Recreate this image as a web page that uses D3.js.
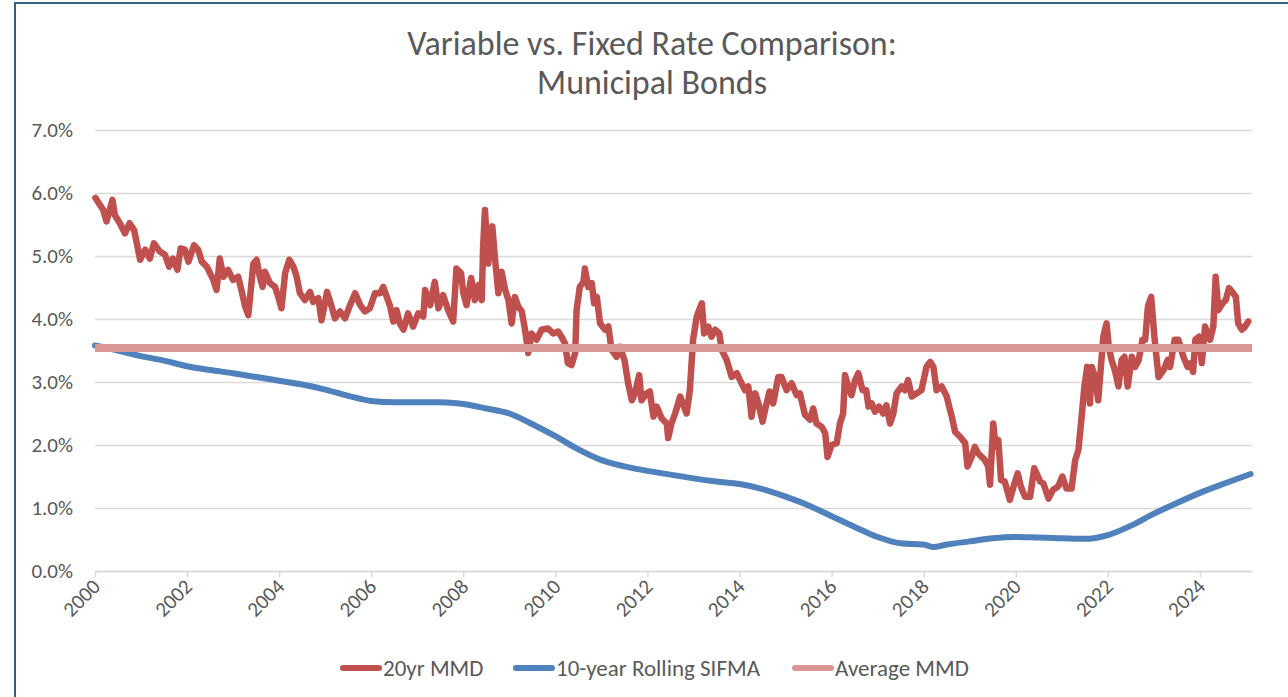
<!DOCTYPE html>
<html>
<head>
<meta charset="utf-8">
<script src="https://cdn.jsdelivr.net/npm/d3@7"></script>
<style>
  body { margin: 0; background: #fff; }
  text { font-family: Carlito, Calibri, Lato, sans-serif; fill: #595959; }
</style>
</head>
<body>
<svg id="chart" width="1288" height="697"></svg>
<script>
// 20yr MMD (decimal year / percent)
var mmdYears = [2000.01,2000.18,2000.25,2000.38,2000.43,2000.54,2000.65,2000.75,2000.85,2000.98,
  2001.09,2001.19,2001.28,2001.41,2001.52,2001.61,2001.69,2001.79,2001.86,2001.95,
  2002.03,2002.15,2002.24,2002.32,2002.43,2002.57,2002.64,2002.71,2002.79,2002.89,
  2003.00,2003.11,2003.18,2003.26,2003.33,2003.44,2003.51,2003.58,2003.64,2003.69,2003.80,2003.91,2003.98,
  2004.05,2004.13,2004.22,2004.31,2004.38,2004.45,2004.56,2004.67,2004.74,2004.85,2004.92,
  2005.04,2005.14,2005.21,2005.32,2005.43,2005.54,2005.65,2005.76,2005.86,2005.97,
  2006.08,2006.19,2006.26,2006.41,2006.48,2006.55,2006.62,2006.70,2006.80,2006.91,
  2007.02,2007.13,2007.17,2007.28,2007.38,2007.46,2007.56,2007.67,2007.78,2007.85,2007.95,
  2008.00,2008.07,2008.17,2008.25,2008.33,2008.40,2008.43,2008.47,2008.54,2008.63,2008.69,2008.76,2008.83,2008.91,2008.98,
  2009.05,2009.12,2009.19,2009.27,2009.34,2009.41,2009.48,2009.59,2009.70,2009.84,2009.95,
  2010.06,2010.13,2010.21,2010.27,2010.35,2010.43,2010.46,2010.53,2010.61,2010.64,2010.71,2010.79,2010.84,2010.90,2010.97,
  2011.08,2011.15,2011.22,2011.33,2011.40,2011.50,2011.58,2011.66,2011.73,2011.82,2011.87,2011.98,
  2012.05,2012.13,2012.20,2012.31,2012.42,2012.45,2012.52,2012.60,2012.71,2012.85,2012.92,2012.99,
  2013.07,2013.18,2013.23,2013.32,2013.39,2013.47,2013.56,2013.61,2013.72,2013.83,2013.94,
  2014.01,2014.12,2014.19,2014.26,2014.34,2014.41,2014.50,2014.57,2014.65,2014.73,2014.84,2014.91,
  2015.02,2015.13,2015.24,2015.31,2015.42,2015.53,2015.60,2015.67,2015.78,2015.86,2015.91,
  2016.00,2016.11,2016.18,2016.25,2016.29,2016.36,2016.43,2016.51,2016.58,2016.67,2016.75,2016.80,2016.87,2016.94,
  2017.03,2017.12,2017.19,2017.27,2017.34,2017.41,2017.52,2017.59,2017.66,2017.74,2017.85,2017.95,
  2018.06,2018.14,2018.21,2018.28,2018.39,2018.50,2018.57,2018.61,2018.68,2018.79,2018.90,2018.95,
  2019.04,2019.11,2019.18,2019.33,2019.40,2019.44,2019.51,2019.56,2019.62,2019.68,2019.76,2019.87,2019.95,
  2020.04,2020.11,2020.20,2020.31,2020.40,2020.53,2020.60,2020.71,2020.81,2020.92,
  2021.01,2021.10,2021.21,2021.29,2021.36,2021.43,2021.49,2021.55,2021.61,2021.65,2021.72,2021.79,2021.86,2021.90,2021.97,
  2022.02,2022.08,2022.15,2022.23,2022.30,2022.36,2022.43,2022.52,2022.59,2022.67,2022.75,2022.81,2022.87,2022.94,
  2023.01,2023.10,2023.21,2023.30,2023.35,2023.45,2023.53,2023.64,2023.73,2023.80,2023.85,2023.90,2023.98,
  2024.04,2024.11,2024.22,2024.29,2024.34,2024.40,2024.49,2024.56,2024.63,2024.72,2024.78,2024.83,2024.91,2024.98,2025.05];
var mmdRates = [5.92,5.73,5.55,5.89,5.65,5.52,5.36,5.52,5.41,4.94,
  5.10,4.96,5.20,5.07,5.02,4.83,4.96,4.78,5.12,5.10,
  4.91,5.17,5.10,4.91,4.83,4.62,4.46,4.96,4.67,4.78,
  4.62,4.67,4.46,4.20,4.06,4.88,4.94,4.67,4.51,4.75,4.57,4.51,4.35,
  4.17,4.73,4.94,4.83,4.67,4.41,4.30,4.43,4.27,4.33,3.98,
  4.43,4.20,4.01,4.12,4.01,4.22,4.41,4.22,4.12,4.17,
  4.41,4.41,4.51,4.20,3.96,4.14,3.93,3.83,4.09,3.88,
  4.09,4.04,4.46,4.22,4.59,4.17,4.38,4.14,3.96,4.80,4.73,
  4.41,4.22,4.65,4.30,4.54,4.30,5.15,5.73,4.88,5.47,4.94,4.41,4.75,4.46,4.30,
  3.93,4.35,4.20,4.12,3.83,3.46,3.77,3.67,3.83,3.85,3.77,
  3.80,3.72,3.61,3.30,3.27,3.46,4.14,4.51,4.59,4.80,4.51,4.57,4.25,4.35,3.93,
  3.83,3.88,3.51,3.40,3.56,3.35,2.98,2.71,2.82,3.11,2.71,2.82,
  2.85,2.45,2.61,2.42,2.34,2.11,2.34,2.50,2.77,2.50,2.87,3.67,
  4.04,4.25,3.77,3.88,3.72,3.83,3.77,3.51,3.35,3.08,3.14,
  3.03,2.87,2.93,2.45,2.82,2.66,2.37,2.61,2.85,2.66,3.08,3.08,
  2.87,2.98,2.79,2.82,2.48,2.40,2.58,2.34,2.29,2.19,1.81,
  2.00,2.03,2.34,2.50,3.11,2.93,2.79,3.03,3.14,2.87,2.87,2.61,2.66,2.53,
  2.61,2.50,2.63,2.34,2.50,2.82,2.93,2.87,3.03,2.77,2.82,2.87,
  3.24,3.32,3.24,2.87,2.93,2.77,2.56,2.45,2.21,2.13,2.03,1.66,
  1.81,1.97,1.87,1.76,1.66,1.37,2.34,1.97,2.08,1.44,1.42,1.13,1.34,
  1.55,1.34,1.18,1.18,1.63,1.42,1.39,1.15,1.29,1.34,
  1.50,1.31,1.31,1.76,1.92,2.45,2.93,3.24,2.66,3.24,3.08,2.71,3.35,3.72,3.93,
  3.56,3.35,3.19,2.93,3.35,3.40,2.93,3.40,3.24,3.35,3.67,3.67,4.20,4.35,
  3.72,3.08,3.19,3.35,3.24,3.67,3.67,3.40,3.24,3.30,3.16,3.67,3.72,
  3.30,3.88,3.67,3.88,4.67,4.14,4.25,4.30,4.49,4.41,4.35,3.93,3.83,3.88,3.96];

// 10-year rolling SIFMA
var sifmaYears = [2000,2000.5,2001,2001.5,2002,2002.5,2003,2003.5,2004,2004.5,2005,2005.5,2006,2006.5,
  2007,2007.5,2008,2008.5,2009,2009.5,2010,2010.5,2011,2011.5,2012,2012.5,2013,2013.5,2014,2014.5,
  2015,2015.5,2016,2016.5,2017,2017.5,2018,2018.2,2018.5,2019,2019.5,2020,2020.5,2021,2021.5,
  2022,2022.5,2023,2023.5,2024,2024.5,2025.1];
var sifmaRates = [3.58,3.50,3.41,3.34,3.25,3.19,3.14,3.08,3.02,2.96,2.88,2.78,2.70,2.68,
  2.68,2.68,2.65,2.58,2.50,2.33,2.14,1.93,1.76,1.66,1.59,1.53,1.47,1.42,1.38,1.30,
  1.18,1.04,0.87,0.70,0.54,0.44,0.42,0.38,0.42,0.47,0.52,0.54,0.53,0.52,0.51,
  0.57,0.72,0.91,1.08,1.24,1.38,1.54];

var avgMMD = 3.54;
var avgYears = [2000, 2025.13];

var yTicks = [0, 1, 2, 3, 4, 5, 6, 7];
var xTicks = [2000, 2002, 2004, 2006, 2008, 2010, 2012, 2014, 2016, 2018, 2020, 2022, 2024];
var titleLines = ["Variable vs. Fixed Rate Comparison:", "Municipal Bonds"];
var seriesNames = ["20yr MMD", "10-year Rolling SIFMA", "Average MMD"];
var seriesColors = ["#C0504D", "#4F81BD", "#D99694"];

var svg = d3.select("#chart"),
  pLeft = 95, pRight = 1252, pTop = 130, pBottom = 571;

var x = d3.scaleLinear().domain([2000, 2025.13]).range([pLeft, pRight]);
var y = d3.scaleLinear().domain([0, 7]).range([pBottom, pTop]);

// frame
svg.append("rect")
  .attr("x", 15).attr("y", 3).attr("width", 1300).attr("height", 720)
  .attr("fill", "#fff").attr("stroke", "#31617F").attr("stroke-width", 2);

// title
svg.selectAll(".title").data(titleLines).enter().append("text")
  .attr("class", "title")
  .attr("x", 652).attr("y", (d, i) => 55 + i * 39)
  .attr("text-anchor", "middle")
  .style("font-size", "34px")
  .text(d => d);

// grid + y labels
var yAxis = svg.append("g").attr("transform", "translate(" + pLeft + ",0)")
  .call(d3.axisLeft(y).tickValues(yTicks).tickSize(-(pRight - pLeft)).tickFormat(d => d.toFixed(1) + "%"));
yAxis.select(".domain").remove();
yAxis.selectAll(".tick line").attr("stroke", "#D9D9D9").attr("stroke-width", 1.5);
yAxis.selectAll(".tick text").attr("x", -22).style("font-size", "21px").attr("fill", "#595959");

// x axis
var xAxis = svg.append("g").attr("transform", "translate(0," + pBottom + ")")
  .call(d3.axisBottom(x).tickValues(xTicks).tickSize(6).tickSizeOuter(0).tickFormat(d3.format("d")));
xAxis.select(".domain").attr("stroke", "#D9D9D9").attr("stroke-width", 1.5);
xAxis.selectAll(".tick line").attr("stroke", "#D9D9D9").attr("stroke-width", 1.5);
xAxis.selectAll(".tick text")
  .attr("text-anchor", "end").attr("fill", "#595959").style("font-size", "21px")
  .attr("x", 0).attr("y", 0).attr("dy", 0)
  .attr("transform", "translate(6,17) rotate(-45)");

var line = d3.line().x(d => x(d[0])).y(d => y(d[1]));

var avgData = avgYears.map(d => [d, avgMMD]);
var sifmaData = sifmaYears.map((d, i) => [d, sifmaRates[i]]);
var mmdData = mmdYears.map((d, i) => [d, mmdRates[i]]);

svg.append("path").datum(mmdData)
  .attr("d", line).attr("fill", "none")
  .attr("stroke", seriesColors[0]).attr("stroke-width", 6.5)
  .attr("stroke-linejoin", "round").attr("stroke-linecap", "round");

svg.append("path").datum(sifmaData)
  .attr("d", d3.line().x(d => x(d[0])).y(d => y(d[1])).curve(d3.curveMonotoneX)).attr("fill", "none")
  .attr("stroke", seriesColors[1]).attr("stroke-width", 6)
  .attr("stroke-linecap", "round");

svg.append("path").datum(avgData)
  .attr("d", line).attr("fill", "none")
  .attr("stroke", seriesColors[2]).attr("stroke-width", 8);

// legend
var legX = [340, 513, 792];
var leg = svg.selectAll(".leg").data(seriesNames).enter().append("g")
  .attr("class", "leg")
  .attr("transform", (d, i) => "translate(" + legX[i] + ",668)");
leg.append("line")
  .attr("x1", 3).attr("x2", 39).attr("y1", 0).attr("y2", 0)
  .attr("stroke", (d, i) => seriesColors[i]).attr("stroke-width", 6).attr("stroke-linecap", "round");
leg.append("text")
  .attr("x", 43).attr("y", 8)
  .style("font-size", "23px")
  .text(d => d);
</script>
</body>
</html>
